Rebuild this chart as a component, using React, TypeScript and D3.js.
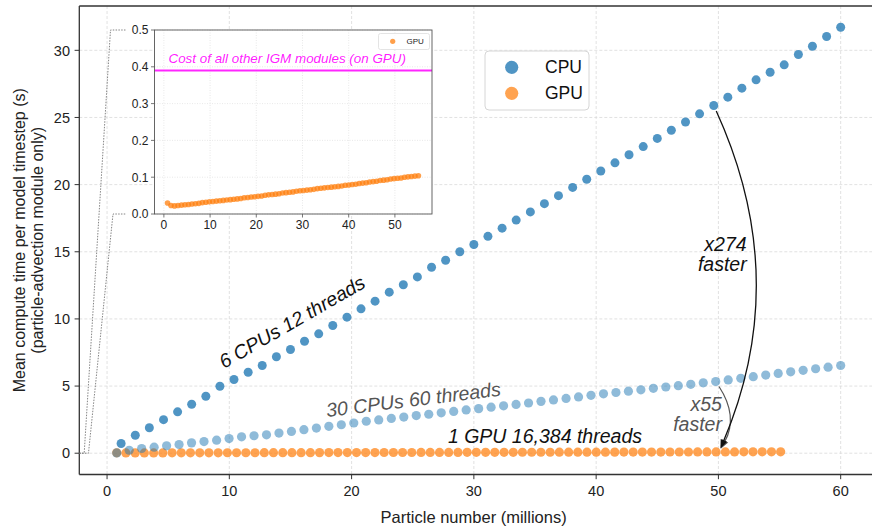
import React from "react";
import * as d3 from "d3";

// ---- data (millions of particles, seconds per timestep) ----
const cpu6X = [
  1.15, 2.31, 3.46, 4.62, 5.77, 6.92, 8.08, 9.23, 10.38, 11.54, 12.69, 13.85, 15.0,
  16.15, 17.31, 18.46, 19.62, 20.77, 21.92, 23.08, 24.23, 25.38, 26.54, 27.69, 28.85,
  30.0, 31.15, 32.31, 33.46, 34.62, 35.77, 36.92, 38.08, 39.23, 40.38, 41.54, 42.69,
  43.85, 45.0, 46.15, 47.31, 48.46, 49.62, 50.77, 51.92, 53.08, 54.23, 55.38, 56.54,
  57.69, 58.85, 60.0,
];
const cpu6Y = [
  0.72, 1.34, 1.9, 2.5, 3.08, 3.65, 4.24, 4.99, 5.49, 6.03, 6.53, 7.18, 7.72, 8.34,
  8.89, 9.51, 10.13, 10.75, 11.32, 11.99, 12.54, 13.13, 13.85, 14.37, 15.0, 15.54,
  16.15, 16.76, 17.36, 17.97, 18.58, 19.18, 19.79, 20.4, 21.01, 21.62, 22.22, 22.83,
  23.44, 24.05, 24.66, 25.27, 25.89, 26.51, 27.18, 27.8, 28.37, 28.92, 29.69, 30.3,
  31.03, 31.72,
];

const cpu30X = [
  0.79, 1.81, 2.83, 3.85, 4.87, 5.89, 6.91, 7.93, 8.96, 9.98, 11.0, 12.02, 13.04,
  14.06, 15.08, 16.1, 17.12, 18.14, 19.16, 20.18, 21.2, 22.22, 23.25, 24.27, 25.29,
  26.31, 27.33, 28.35, 29.37, 30.39, 31.41, 32.43, 33.45, 34.47, 35.49, 36.51, 37.54,
  38.56, 39.58, 40.6, 41.62, 42.64, 43.66, 44.68, 45.7, 46.72, 47.74, 48.76, 49.78,
  50.8, 51.83, 52.85, 53.87, 54.89, 55.91, 56.93, 57.95, 58.97, 60.0,
];
const cpu30Y = [
  0.02, 0.22, 0.35, 0.45, 0.55, 0.65, 0.77, 0.87, 0.97, 1.09, 1.22, 1.3, 1.37, 1.5,
  1.62, 1.75, 1.87, 2.0, 2.12, 2.25, 2.38, 2.48, 2.59, 2.69, 2.8, 2.9, 3.01, 3.11,
  3.22, 3.32, 3.43, 3.53, 3.63, 3.74, 3.86, 3.97, 4.08, 4.19, 4.31, 4.42, 4.52, 4.62,
  4.72, 4.83, 4.93, 5.03, 5.13, 5.24, 5.34, 5.46, 5.58, 5.7, 5.82, 5.94, 6.06, 6.17,
  6.29, 6.41, 6.53,
];

const gpuX = [
  0.79, 1.54, 2.3, 3.05, 3.81, 4.56, 5.32, 6.07, 6.82, 7.58, 8.33, 9.09, 9.84, 10.59,
  11.35, 12.1, 12.86, 13.61, 14.37, 15.12, 15.87, 16.63, 17.38, 18.14, 18.89, 19.65,
  20.4, 21.15, 21.91, 22.66, 23.42, 24.17, 24.92, 25.68, 26.43, 27.19, 27.94, 28.7,
  29.45, 30.2, 30.96, 31.71, 32.47, 33.22, 33.97, 34.73, 35.48, 36.24, 36.99, 37.75,
  38.5, 39.25, 40.01, 40.76, 41.52, 42.27, 43.03, 43.78, 44.53, 45.29, 46.04, 46.8,
  47.55, 48.3, 49.06, 49.81, 50.57, 51.32, 52.08, 52.83, 53.58, 54.34, 55.09,
];
const gpuY = [
  0.03, 0.023, 0.022, 0.023, 0.024, 0.025, 0.026, 0.027, 0.028, 0.029, 0.031, 0.032,
  0.033, 0.034, 0.035, 0.036, 0.037, 0.038, 0.039, 0.04, 0.041, 0.042, 0.044, 0.045,
  0.046, 0.047, 0.048, 0.049, 0.051, 0.052, 0.053, 0.054, 0.055, 0.057, 0.058, 0.059,
  0.06, 0.062, 0.063, 0.064, 0.065, 0.066, 0.067, 0.069, 0.07, 0.071, 0.072, 0.073,
  0.074, 0.075, 0.076, 0.078, 0.079, 0.08, 0.081, 0.083, 0.084, 0.085, 0.087, 0.088,
  0.089, 0.091, 0.092, 0.093, 0.095, 0.096, 0.097, 0.098, 0.1, 0.101, 0.102, 0.103,
  0.104,
];

const xTicks = [0, 10, 20, 30, 40, 50, 60];
const yTicks = [0, 5, 10, 15, 20, 25, 30];
const insetXTicks = [0, 10, 20, 30, 40, 50];
const insetYTicks = [0, 0.1, 0.2, 0.3, 0.4, 0.5];
const otherModulesCost = 0.39;

const legendItems = ["CPU", "GPU"];

const FONT = "'Liberation Sans', Arial, Helvetica, sans-serif";
const BLUE = "#1f77b4";
const ORANGE = "#ff7f0e";
const MAGENTA = "#ff00ff";

const x = d3.scaleLinear().domain([-2.27, 62.97]).range([79.3, 877]);
const y = d3.scaleLinear().domain([-1.585, 33.3]).range([474.5, 6]);
const ix = d3.scaleLinear().domain([-2.03, 58.03]).range([154.5, 432]);
const iy = d3.scaleLinear().domain([0, 0.5]).range([214, 30]);

const zip = (xs: number[], ys: number[]) =>
  xs.slice(0, Math.min(xs.length, ys.length)).map((v, i) => [v, ys[i]]);

// quadratic "arc3" style arrow between two points (pixel space)
function arcArrow(
  p1: number[],
  p2: number[],
  rad: number,
  shrinkA: number,
  shrinkB: number,
  head = 9
) {
  const [x1, y1] = p1;
  const [x2, y2] = p2;
  const dx = x2 - x1;
  const dy = y2 - y1;
  const cx = (x1 + x2) / 2 + rad * dy;
  const cy = (y1 + y2) / 2 - rad * dx;
  const u1 = [cx - x1, cy - y1];
  const l1 = Math.hypot(u1[0], u1[1]);
  const u2 = [x2 - cx, y2 - cy];
  const l2 = Math.hypot(u2[0], u2[1]);
  const sx = x1 + (u1[0] / l1) * shrinkA;
  const sy = y1 + (u1[1] / l1) * shrinkA;
  const ex = x2 - (u2[0] / l2) * shrinkB;
  const ey = y2 - (u2[1] / l2) * shrinkB;
  const ux = u2[0] / l2;
  const uy = u2[1] / l2;
  const bx = ex - ux * head;
  const by = ey - uy * head;
  const hw = head * 0.38;
  const line = `M${sx},${sy} Q${cx},${cy} ${bx + ux},${by + uy}`;
  const tri = `M${ex},${ey} L${bx - uy * hw},${by + ux * hw} L${bx + uy * hw},${by - ux * hw} Z`;
  return { line, tri };
}

export default function App() {
  const gpu = zip(gpuX, gpuY);
  const cpu30 = zip(cpu30X, cpu30Y);
  const cpu6 = zip(cpu6X, cpu6Y);

  const bigArrow = arcArrow([x(49.62), y(25.89)], [x(50), y(0)], 0.22, 6, 5);
  const smallArrow = arcArrow([x(49.78), y(5.34)], [x(50), y(0)], 0.3, 6, 5);

  const [xl] = x.range();
  const [yb, yt] = y.range();
  const [ixl, ixr] = ix.range();
  const [iyb, iyt] = iy.range();

  return (
    <svg
      width={872}
      height={531}
      style={{ position: "absolute", left: 0, top: 0, display: "block", background: "#fff" }}
      fontFamily={FONT}
    >
      {/* main grid */}
      <g stroke="#d9d9d9" strokeWidth={0.8} strokeDasharray="3,2">
        {xTicks.map((t) => (
          <line key={"gx" + t} x1={x(t)} x2={x(t)} y1={yt} y2={yb} />
        ))}
        {yTicks.map((t) => (
          <line key={"gy" + t} x1={xl} x2={872} y1={y(t)} y2={y(t)} />
        ))}
      </g>

      {/* main series */}
      <g>
        {gpu.map(([a, b], i) => (
          <circle key={"g" + i} cx={x(a)} cy={y(b)} r={4.6} fill={ORANGE} fillOpacity={0.72} />
        ))}
        {cpu30.map(([a, b], i) => (
          <circle key={"c30" + i} cx={x(a)} cy={y(b)} r={4.6} fill={BLUE} fillOpacity={0.5} />
        ))}
        {cpu6.map(([a, b], i) => (
          <circle key={"c6" + i} cx={x(a)} cy={y(b)} r={4.5} fill={BLUE} fillOpacity={0.78} />
        ))}
      </g>

      {/* spines */}
      <g stroke="#333" strokeWidth={1.3} fill="none">
        <line x1={xl} x2={xl} y1={yt} y2={yb} />
        <line x1={xl} x2={872} y1={yb} y2={yb} />
        <line x1={xl} x2={872} y1={yt} y2={yt} />
      </g>

      {/* main ticks */}
      <g fontSize={14.5} fill="#222">
        {xTicks.map((t) => (
          <g key={"tx" + t}>
            <line x1={x(t)} x2={x(t)} y1={yb} y2={yb + 4.7} stroke="#333" />
            <text x={x(t)} y={496} textAnchor="middle">
              {t}
            </text>
          </g>
        ))}
        {yTicks.map((t) => (
          <g key={"ty" + t}>
            <line x1={xl - 4.7} x2={xl} y1={y(t)} y2={y(t)} stroke="#333" />
            <text x={70} y={y(t)} dy="0.36em" textAnchor="end">
              {t}
            </text>
          </g>
        ))}
      </g>

      {/* axis labels */}
      <text x={(xl + 872) / 2 - 2} y={523} fontSize={16.5} textAnchor="middle" fill="#222">
        Particle number (millions)
      </text>
      <g fontSize={16} fill="#222" textAnchor="middle">
        <text transform={`translate(25,${(yt + yb) / 2}) rotate(-90)`}>
          Mean compute time per model timestep (s)
        </text>
        <text transform={`translate(43,${(yt + yb) / 2}) rotate(-90)`}>
          (particle-advection module only)
        </text>
      </g>

      {/* connectors from the zoom region to the inset */}
      <g stroke="#777" strokeWidth={0.9} strokeDasharray="1.5,1.3" fill="none">
        <polyline
          points={`${xl},${y(0)} ${x(-1.87)},${y(0)} ${ixl - 44},${iyt} ${ixl - 29},${iyt}`}
        />
        <polyline
          points={`${xl},${y(0)} ${x(-1.52)},${y(0)} ${ixl - 41.5},${iyb} ${ixl - 29},${iyb}`}
        />
      </g>

      {/* inset */}
      <rect x={ixl} y={iyt} width={ixr - ixl} height={iyb - iyt} fill="#fff" />
      <g stroke="#e2e2e2" strokeWidth={0.8} strokeDasharray="1,1.5">
        {insetXTicks.map((t) => (
          <line key={"igx" + t} x1={ix(t)} x2={ix(t)} y1={iyt} y2={iyb} />
        ))}
        {insetYTicks.map((t) => (
          <line key={"igy" + t} x1={ixl} x2={ixr} y1={iy(t)} y2={iy(t)} />
        ))}
      </g>
      <line
        x1={ixl}
        x2={ixr}
        y1={iy(otherModulesCost)}
        y2={iy(otherModulesCost)}
        stroke={MAGENTA}
        strokeWidth={2}
        strokeOpacity={0.85}
      />
      <text
        x={ix(1.0)}
        y={iy(0.41)}
        fontSize={13.4}
        fontStyle="italic"
        fill={MAGENTA}
        fillOpacity={0.9}
      >
        Cost of all other IGM modules (on GPU)
      </text>
      {gpu.map(([a, b], i) => (
        <circle key={"ig" + i} cx={ix(a)} cy={iy(b)} r={2.8} fill={ORANGE} fillOpacity={0.75} />
      ))}
      <rect
        x={ixl}
        y={iyt}
        width={ixr - ixl}
        height={iyb - iyt}
        fill="none"
        stroke="#555"
        strokeWidth={0.9}
      />
      <g fontSize={12} fill="#222">
        {insetXTicks.map((t) => (
          <g key={"itx" + t}>
            <line x1={ix(t)} x2={ix(t)} y1={iyb} y2={iyb + 3.5} stroke="#555" strokeWidth={0.8} />
            <text x={ix(t)} y={228.5} textAnchor="middle">
              {t}
            </text>
          </g>
        ))}
        {insetYTicks.map((t) => (
          <g key={"ity" + t}>
            <line x1={ixl - 3.5} x2={ixl} y1={iy(t)} y2={iy(t)} stroke="#555" strokeWidth={0.8} />
            <text x={148.5} y={iy(t)} dy="0.36em" textAnchor="end">
              {t.toFixed(1)}
            </text>
          </g>
        ))}
      </g>
      {/* inset legend */}
      <rect x={378.5} y={33.5} width={51} height={16} rx={2} fill="#fff" fillOpacity={0.8} stroke="#ddd" strokeWidth={0.8} />
      <circle cx={392.7} cy={41.3} r={2.6} fill={ORANGE} fillOpacity={0.75} />
      <text x={406.5} y={44} fontSize={8} fill="#222">
        GPU
      </text>

      {/* main legend */}
      <rect x={485} y={51} width={104} height={59} rx={4} fill="#fff" fillOpacity={0.85} stroke="#d6d6d6" strokeWidth={1} />
      {legendItems.map((name, i) => (
        <g key={name}>
          <circle
            cx={511.7}
            cy={67.3 + i * 26}
            r={6.6}
            fill={i === 0 ? BLUE : ORANGE}
            fillOpacity={i === 0 ? 0.78 : 0.72}
          />
          <text x={545} y={72.5 + i * 26} fontSize={17.5} fill="#111">
            {name}
          </text>
        </g>
      ))}

      {/* arrows */}
      <path d={smallArrow.line} stroke="#555" strokeWidth={1.2} fill="none" />
      <path d={smallArrow.tri} fill="#555" />
      <path d={bigArrow.line} stroke="#111" strokeWidth={1.3} fill="none" />
      <path d={bigArrow.tri} fill="#111" />

      {/* annotations */}
      <g fontSize={19.5} fontStyle="italic">
        <text transform={`translate(${x(9.56)},${y(6.27)}) rotate(-30)`} fill="#111">
          6 CPUs 12 threads
        </text>
        <text transform={`translate(${x(17.99)},${y(2.7)}) rotate(-7)`} fill="#555">
          30 CPUs 60 threads
        </text>
        <text x={x(27.88)} y={y(0.78)} fill="#111">
          1 GPU 16,384 threads
        </text>
        <text x={x(52.31)} y={y(15.05)} textAnchor="end" fill="#111">
          <tspan x={x(52.31)}>x274</tspan>
          <tspan x={x(52.31)} dy={20}>
            faster
          </tspan>
        </text>
        <text x={x(50.29)} y={y(3.17)} textAnchor="end" fill="#555">
          <tspan x={x(50.29)}>x55</tspan>
          <tspan x={x(50.29)} dy={20}>
            faster
          </tspan>
        </text>
      </g>
    </svg>
  );
}
